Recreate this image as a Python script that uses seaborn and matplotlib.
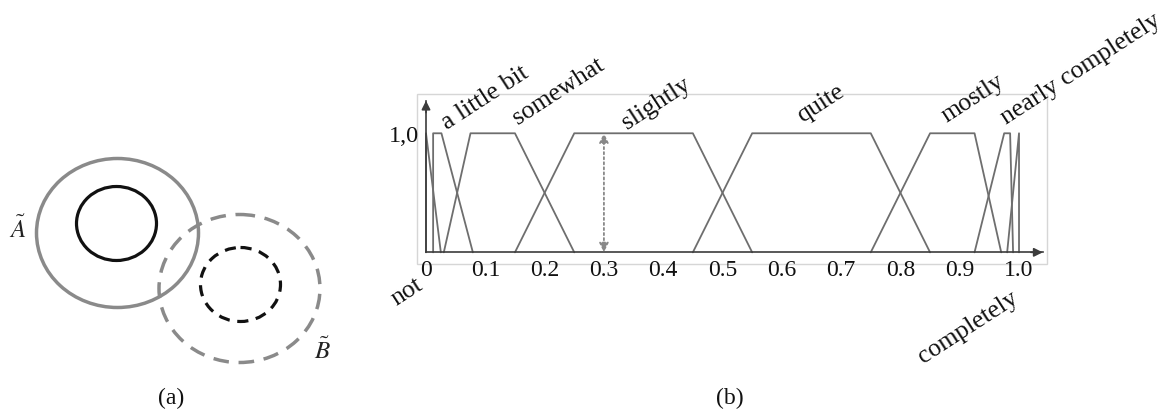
import numpy as np
import pandas as pd
import matplotlib
matplotlib.use("Agg")
import matplotlib.pyplot as plt
from matplotlib.patches import Ellipse, Rectangle
import seaborn as sns

# ---- data -------------------------------------------------------------
terms = ["not", "a little bit", "somewhat", "slightly", "quite",
         "mostly", "nearly completely", "completely"]
# trapezoid corners (a, b, c, d) of each membership function
corner_a = [0.0, 0.012, 0.030, 0.15, 0.45, 0.75, 0.925, 0.980]
corner_b = [0.0, 0.012, 0.075, 0.25, 0.55, 0.85, 0.975, 1.000]
corner_c = [0.0, 0.026, 0.150, 0.45, 0.75, 0.925, 0.985, 1.000]
corner_d = [0.025, 0.079, 0.250, 0.55, 0.85, 0.970, 0.990, 1.000]
membership_levels = [0.0, 1.0, 1.0, 0.0]

x_ticks = [0.0, 0.1, 0.2, 0.3, 0.4, 0.5, 0.6, 0.7, 0.8, 0.9, 1.0]
x_tick_labels = ["0", "0.1", "0.2", "0.3", "0.4", "0.5", "0.6", "0.7", "0.8", "0.9", "1.0"]
y_ticks = [1.0]
y_tick_labels = ["1,0"]
highlight_x = 0.3

# ---- style ------------------------------------------------------------
sns.set_theme(style="white")
plt.rcParams["font.family"] = ["Liberation Serif", "DejaVu Serif"]
plt.rcParams["mathtext.fontset"] = "stix"

W, H = 1168, 414
fig = plt.figure(figsize=(W / 100, H / 100), dpi=100)

def px(x, y):
    """figure pixel position -> figure fraction"""
    return x / W, 1 - y / H

# ---- panel (a): two fuzzy sets with their cores -----------------------
ax_a = fig.add_axes([0, 0, 360 / W, 1])
ax_a.set_xlim(0, 360)
ax_a.set_ylim(H, 0)
ax_a.axis("off")

set_cx = [117.5, 116.5, 239.5, 240.5]
set_cy = [234.0, 224.5, 289.5, 285.5]
set_w = [162, 80, 161, 80]
set_h = [149, 74, 148, 74]
set_color = ["#8a8a8a", "#111111", "#8a8a8a", "#111111"]
set_ls = ["-", "-", (0, (4.5, 2.8)), (0, (3.5, 2.4))]
set_lw = [2.5, 2.3, 2.5, 2.3]
for cx, cy, w, h, c, ls, lw in zip(set_cx, set_cy, set_w, set_h, set_color, set_ls, set_lw):
    ax_a.add_patch(Ellipse((cx, cy), w, h, fill=False, ec=c, lw=lw, ls=ls))

ax_a.text(18, 229, r"$\tilde{A}$", fontsize=18, ha="center", va="center", color="#222222")
ax_a.text(322, 351, r"$\tilde{B}$", fontsize=18, ha="center", va="center", color="#222222")

# ---- panel (b): linguistic terms as trapezoids ------------------------
rows = []
for t, a, b, c, d in zip(terms, corner_a, corner_b, corner_c, corner_d):
    for order, (xv, mu) in enumerate(zip([a, b, c, d], membership_levels)):
        rows.append({"term": t, "order": order, "x": xv, "mu": mu})
df = pd.DataFrame(rows)

ax = fig.add_axes([417 / W, (H - 265) / H, 630 / W, 170 / H])
sns.lineplot(data=df, x="x", y="mu", hue="term", hue_order=terms,
             palette=["#6e6e6e"] * len(terms), estimator=None, sort=False,
             legend=False, lw=1.3, ax=ax)

ax.set_xlim(-0.0152, 1.0472)
ax.set_ylim(-0.098, 1.330)
ax.set_xlabel("")
ax.set_ylabel("")

axis_col = "#3c3c3c"
x_end, y_end = 1.040, 1.274
for side in ["top", "right"]:
    ax.spines[side].set_visible(False)
ax.spines["bottom"].set_position(("data", 0))
ax.spines["left"].set_position(("data", 0))
ax.spines["bottom"].set_bounds(0, x_end)
ax.spines["left"].set_bounds(0, y_end)
for side in ["bottom", "left"]:
    ax.spines[side].set_color(axis_col)
    ax.spines[side].set_linewidth(1.2)

ax.add_patch(Rectangle((0, 0), 1, 1, transform=ax.transAxes, fill=False,
                       ec="#d6d6d6", lw=1.0, clip_on=False, zorder=0))

ax.set_xticks(x_ticks)
ax.set_xticklabels(x_tick_labels)
ax.set_yticks(y_ticks)
ax.set_yticklabels(y_tick_labels)
ax.tick_params(axis="x", direction="inout", length=9, width=1.1, color=axis_col,
               labelsize=17, pad=0.0, labelcolor="#111111")
ax.tick_params(axis="y", direction="in", length=5, width=1.1, color=axis_col,
               labelsize=17.5, pad=5.0, labelcolor="#111111")
ax.grid(False)

# axis arrow heads
ax.annotate("", xy=(x_end, 0), xytext=(x_end - 0.02, 0),
            arrowprops=dict(arrowstyle="-|>", color=axis_col, lw=1.2,
                            mutation_scale=13, shrinkA=0, shrinkB=0))
ax.annotate("", xy=(0, y_end), xytext=(0, y_end - 0.1),
            arrowprops=dict(arrowstyle="-|>", color=axis_col, lw=1.2,
                            mutation_scale=13, shrinkA=0, shrinkB=0))

# dotted double arrow marking full membership at 0.3
ax.annotate("", xy=(highlight_x, 1.0), xytext=(highlight_x, 0.0),
            arrowprops=dict(arrowstyle="<|-|>", color="#888888", lw=1.3, ls=(0, (1.2, 1.6)),
                            mutation_scale=14, shrinkA=0, shrinkB=0))

# term labels
label_pos = {
    "a little bit": (0.035, 1.04, "left"),
    "somewhat": (0.155, 1.08, "left"),
    "slightly": (0.340, 1.04, "left"),
    "quite": (0.634, 1.095, "left"),
    "mostly": (0.878, 1.095, "left"),
    "nearly completely": (0.979, 1.08, "left"),
    "not": (-0.050, -0.44, "left"),
    "completely": (1.0, -0.40, "right"),
}
for t in terms:
    lx, ly, ha = label_pos[t]
    ax.text(lx, ly, t, rotation=33, rotation_mode="anchor", ha=ha, va="baseline",
            fontsize=18.5, color="#111111", clip_on=False)

# panel captions
fig.text(*px(171, 398), "(a)", fontsize=17, ha="center", va="center", color="#111111")
fig.text(*px(730, 398), "(b)", fontsize=17, ha="center", va="center", color="#111111")

fig.savefig("out.png", dpi=100)
